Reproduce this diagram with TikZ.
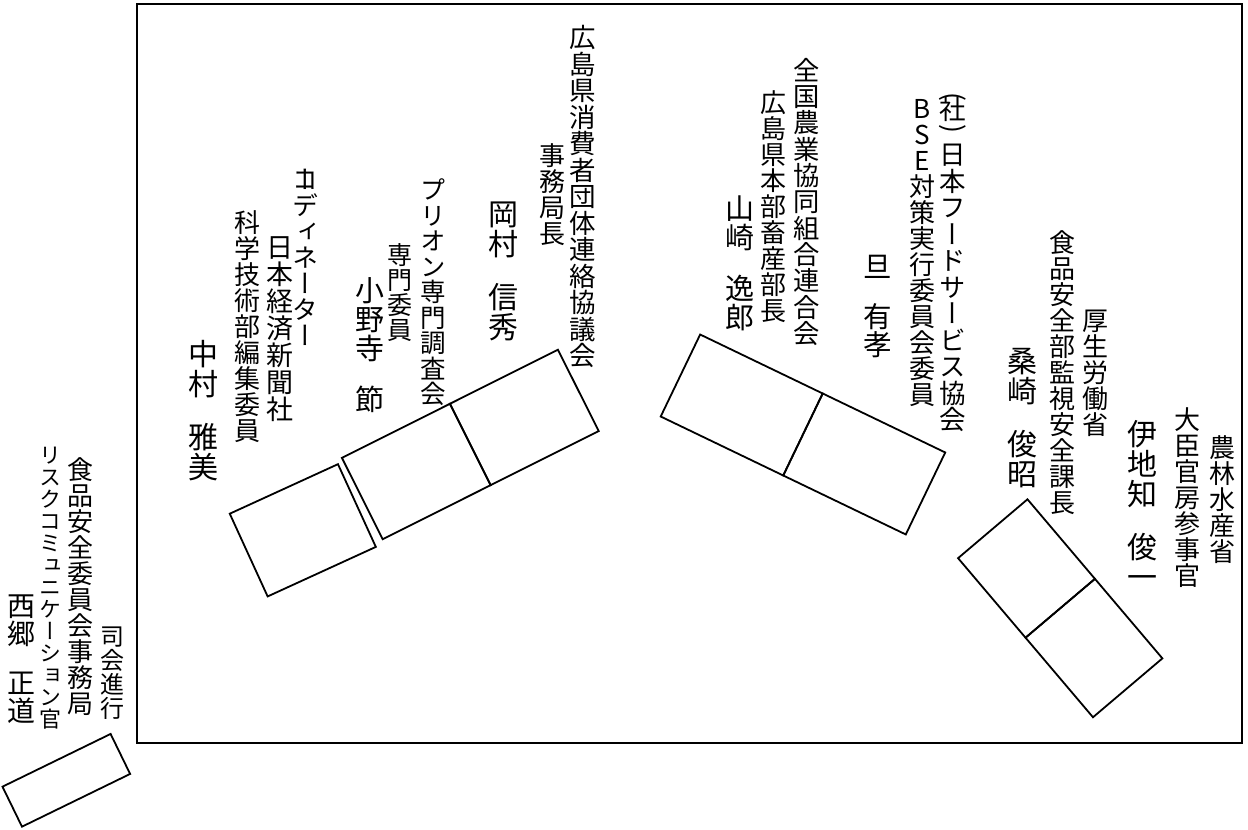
\documentclass[tikz,border=0pt]{standalone}
\usepackage{fontspec}
\usepackage{graphicx}
\newfontfamily\jp[RawFeature=+vert]{Noto Sans CJK JP}

% one character per line, top to bottom
\def\tgap{tgap}\def\tback{tback}
\def\tateht{.88em}\def\tatedp{.12em}
\newcommand\tatecell[1]{\hbox to 1em{\hss#1\vrule height\tateht depth\tatedp width 0pt\hss}}
\def\tateloop#1{\ifx\relax#1\else
  \ifx\tgap#1\kern.75em\else\ifx\tback#1\kern-.15em\else\tatecell{#1}\fi\fi
  \expandafter\tateloop\fi}
\newcommand\tate[1]{\vbox{\offinterlineskip\tateloop#1\relax}}
\newcommand\parup{\rlap{\raisebox{.55em}{\rotatebox[origin=c]{-90}{(}}}}
\newcommand\pardown{\raisebox{.35em}{\rotatebox[origin=c]{-90}{)}}}

\begin{document}
\begin{tikzpicture}[x=1pt,y=-1pt,
  desk/.style={draw, line width=1.8pt, inner sep=0pt, outer sep=0pt, minimum height=91pt},
  tate/.style={anchor=north, inner sep=0pt, font=\jp\fontsize{#1}{#1}\selectfont}]
  \useasboundingbox (0,0) rectangle (1248,830);
  % room
  \draw[line width=1.8pt] (137,4) rectangle (1242,743);
  % desks
  \node[desk, minimum width=119pt, rotate=24.6] (deskNakamura) at (302.8,530.3) {};
  \node[desk, minimum width=120.8pt, rotate=26.6] (deskOnodera) at (416.3,471.5) {};
  \node[desk, minimum width=120.8pt, rotate=26.6, anchor=west] (deskOkamura) at (deskOnodera.east) {};
  \node[desk, minimum width=136pt, rotate=-25.7] (deskYamazaki) at (741.7,405) {};
  \node[desk, minimum width=136pt, rotate=-25.7, anchor=west] (deskDan) at (deskYamazaki.east) {};
  \node[desk, minimum width=104.3pt, rotate=-49.7] (deskKuwazaki) at (1026.5,568.5) {};
  \node[desk, minimum width=104.3pt, rotate=-49.7, anchor=west] (deskIjichi) at (deskKuwazaki.east) {};
  \node[desk, minimum width=120.3pt, minimum height=44.5pt, rotate=26] (deskSaigo) at (66.3,780.3) {};
  % chair of the meeting
  \node[tate=28] (saigo) at (22,592) {\tate{西郷\tgap 正道}};
  \node[tate=22] (saigoTitle) at (50,444) {\tate{リスクコミュニケーション官}};
  \node[tate=26] (saigoOrg) at (80,456) {\tate{食品安全委員会事務局}};
  \node[tate=24] (saigoRole) at (112,624) {\tate{司会進行}};
  % left row
  \node[tate=30] (nakamura) at (203,339) {\tate{中村\tgap 雅美}};
  \node[tate=26] (nakamuraTitle) at (247,209) {\tate{科学技術部編集委員}};
  \node[tate=27] (nakamuraOrg) at (280,234) {\tate{日本経済新聞社}};
  \node[tate=26] (nakamuraRole) at (305,166) {\tate{{\rlap{コ}ー}ディネーター}};
  \node[tate=29] (onodera) at (370,276) {\tate{小野寺\tgap 節}};
  \node[tate=25] (onoderaTitle) at (400,242) {\tate{専門委員}};
  \node[tate=25.5] (onoderaOrg) at (433,177) {\tate{プリオン専門調査会}};
  \node[tate=30] (okamura) at (503,199) {\tate{岡村\tgap 信秀}};
  \node[tate=26] (okamuraTitle) at (552,142) {\tate{事務局長}};
  \node[tate=26.5] (okamuraOrg) at (583,24) {\tate{広島県消費者団体連絡協議会}};
  % middle
  \node[tate=29] (yamazaki) at (740,194) {\tate{山崎\tgap 逸郎}};
  \node[tate=26] (yamazakiTitle) at (773,89) {\tate{広島県本部畜産部長}};
  \node[tate=26.3] (yamazakiOrg) at (807,57) {\tate{全国農業協同組合連合会}};
  \node[tate=28.5] (dan) at (878,252) {\tate{旦\tgap 有孝}};
  \node[tate=26] (danTitle) at (922,95) {\tate{BSE対策実行委員会委員}};
  \node[tate=26.5] (danOrg) at (953,92) {\tate{{\parup 社}{\pardown}\tback\tback 日本フードサービス協会}};
  % right
  \node[tate=30] (kuwazaki) at (1022,346) {\tate{桑崎\tgap 俊昭}};
  \node[tate=26] (kuwazakiTitle) at (1062,229) {\tate{食品安全部監視安全課長}};
  \node[tate=26] (kuwazakiOrg) at (1095,307) {\tate{厚生労働省}};
  \node[tate=30] (ijichi) at (1142,419) {\tate{伊地知\tgap 俊一}};
  \node[tate=26] (ijichiTitle) at (1187,406) {\tate{大臣官房参事官}};
  \node[tate=26] (ijichiOrg) at (1222,434) {\tate{農林水産省}};
\end{tikzpicture}
\end{document}
